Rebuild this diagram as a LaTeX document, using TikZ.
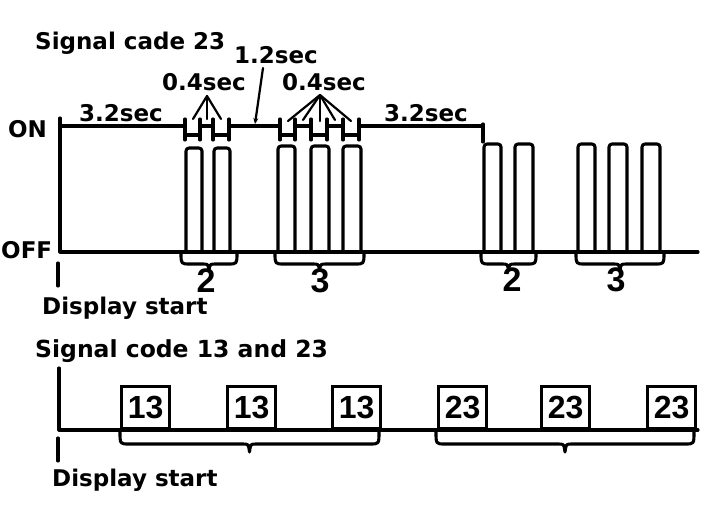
\documentclass[tikz,border=0pt]{standalone}
\usepackage{fontspec}
\setmainfont{DejaVu Sans}
\newfontfamily\digitfont{Liberation Sans}
\usetikzlibrary{arrows.meta}
\tikzset{
  ln/.style={line width=3.1pt, line cap=round, line join=round},
  fan/.style={line width=2.2pt, line cap=round},
  lbl/.style={font=\fontsize{23}{26}\selectfont\bfseries, inner sep=0pt},
  title/.style={font=\fontsize{23.5}{28}\selectfont\bfseries, inner sep=0pt},
  bdig/.style={font=\digitfont\fontsize{34}{36}\selectfont\bfseries, inner sep=0pt},
  codebox/.style={draw, line width=3.1pt, minimum width=48pt, minimum height=42pt,
    inner sep=0pt, font=\digitfont\fontsize{32}{34}\selectfont\bfseries, anchor=south west},
}
\newcommand\sigpulse[3]{\draw[ln, rounded corners=3pt] (#1,252) -- (#1,#3) -- (#2,#3) -- (#2,252);}
\newcommand\sigbrace[5]{%
  \pgfmathsetmacro\xm{(#1+#2)/2}%
  \draw[ln] (#1,#3) .. controls (#1,#3+#4) .. (#1+9,#3+#4) -- (\xm-7,#3+#4)
    .. controls (\xm-1,#3+#4) .. (\xm,#3+#4+#5)
    .. controls (\xm+1,#3+#4) .. (\xm+7,#3+#4) -- (#2-9,#3+#4)
    .. controls (#2,#3+#4) .. (#2,#3);}
\begin{document}
\begin{tikzpicture}[x=1pt,y=-1pt]
\useasboundingbox (0,0) rectangle (704,530);

% ---------- upper diagram ----------
\node[lbl, anchor=base west] (t1) at (35,49) {Signal cade 23};
\node[lbl, anchor=west] (on) at (8,129) {ON};
\node[lbl, anchor=west] (off) at (1,250) {OFF};

% axes
\draw[ln] (60,118) -- (60,252) -- (698,252);

% dimension chain
\draw[ln] (60,126) -- (185,126);
\draw[ln] (185,135) -- (200,135);
\draw[ln] (200,126) -- (213,126);
\draw[ln] (213,135) -- (229,135);
\draw[ln] (229,126) -- (280,126);
\draw[ln] (280,135) -- (295,135);
\draw[ln] (295,126) -- (311,126);
\draw[ln] (311,135) -- (327,135);
\draw[ln] (327,126) -- (343,126);
\draw[ln] (343,135) -- (359,135);
\draw[ln] (359,126) -- (483,126);
\foreach \x in {185,200,213,229,280,295,311,327,343,359}
  \draw[ln] (\x,119) -- (\x,140);
\draw[ln] (483,124) -- (483,142);

% pulses
\sigpulse{186}{202}{148}
\sigpulse{214}{230}{148}
\sigpulse{278}{295}{146}
\sigpulse{311}{329}{146}
\sigpulse{343}{361}{146}
\sigpulse{484}{501}{144}
\sigpulse{515}{533}{144}
\sigpulse{578}{595}{144}
\sigpulse{609}{627}{144}
\sigpulse{642}{660}{144}

% labels on dimension chain
\node[lbl] (d1) at (121,113) {3.2sec};
\node[lbl] (d2) at (426,113) {3.2sec};
\node[lbl] (f1) at (204,82) {0.4sec};
\node[lbl] (f2) at (324,82) {0.4sec};
\node[lbl] (t12) at (276,55) {1.2sec};

\coordinate (a1) at (207,96);
\coordinate (a1e1) at (193,119);
\coordinate (a1e2) at (207,119);
\coordinate (a1e3) at (221,119);
\foreach \e in {a1e1,a1e2,a1e3} \draw[fan] (a1) -- (\e);

\coordinate (a2) at (320,95);
\coordinate (a2e1) at (288,121);
\coordinate (a2e2) at (303,120);
\coordinate (a2e3) at (320,121);
\coordinate (a2e4) at (335,120);
\coordinate (a2e5) at (351,121);
\foreach \e in {a2e1,a2e2,a2e3,a2e4,a2e5} \draw[fan] (a2) -- (\e);

\coordinate (a3) at (263,68);
\coordinate (a3e) at (255,124);
\draw[fan, -{Stealth[length=6pt,width=5pt]}] (a3) -- (a3e);

% braces
\sigbrace{181}{237}{253}{11}{6}
\sigbrace{275}{364}{253}{11}{6}
\sigbrace{481}{536}{253}{11}{6}
\sigbrace{576}{664}{253}{11}{6}
\node[bdig] (n2a) at (206,281) {2};
\node[bdig] (n3a) at (320,281) {3};
\node[bdig] (n2b) at (512,280) {2};
\node[bdig] (n3b) at (616,280) {3};

% display start
\coordinate (ds1a) at (58,263);
\coordinate (ds1b) at (58,286);
\draw[ln] (ds1a) -- (ds1b);
\node[lbl, anchor=base west] (ds1) at (42,314) {Display start};

% ---------- lower diagram ----------
\node[title, anchor=base west] (t2) at (35,357) {Signal code 13 and 23};
\draw[ln] (59,368) -- (59,430) -- (698,430);

\node[codebox] (b1) at (120,430) {13};
\node[codebox] (b2) at (226,430) {13};
\node[codebox] (b3) at (331,430) {13};
\node[codebox] (b4) at (437,430) {23};
\node[codebox] (b5) at (540,430) {23};
\node[codebox] (b6) at (646,430) {23};

\sigbrace{120}{379}{432}{12}{8}
\sigbrace{436}{694}{432}{12}{8}

\coordinate (ds2a) at (58,438);
\coordinate (ds2b) at (58,461);
\draw[ln] (ds2a) -- (ds2b);
\node[lbl, anchor=base west] (ds2) at (52,486) {Display start};
\end{tikzpicture}
\end{document}
